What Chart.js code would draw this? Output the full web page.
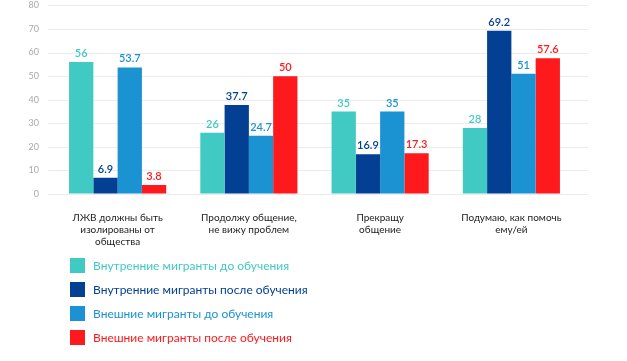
<!DOCTYPE html>
<html>
<head>
  <meta charset="utf-8">
  <title>Отношение к ЛЖВ</title>
  <script src="https://cdn.jsdelivr.net/npm/chart.js"></script>
  <style>
    html, body { margin: 0; padding: 0; background: #fff; }
    #wrap { width: 627px; height: 361px; position: relative; }
  </style>
</head>
<body>
  <div id="wrap"><canvas id="chart"></canvas></div>
  <script>
    const categories = [
      ['ЛЖВ должны быть', 'изолированы от', 'общества'],
      ['Продолжу общение,', 'не вижу проблем'],
      ['Прекращу', 'общение'],
      ['Подумаю, как помочь', 'ему/ей']
    ];
    const seriesNames = [
      'Внутренние мигранты до обучения',
      'Внутренние мигранты после обучения',
      'Внешние мигранты до обучения',
      'Внешние мигранты после обучения'
    ];
    const internalBefore = [56, 26, 35, 28];
    const internalAfter = [6.9, 37.7, 16.9, 69.2];
    const externalBefore = [53.7, 24.7, 35, 51];
    const externalAfter = [3.8, 50, 17.3, 57.6];
    const colors = ['#41c9c3', '#033f93', '#1b92d1', '#fe1a1c'];

    const fontFamily = 'Lato, "Noto Sans", sans-serif';

    // value labels above each bar, in the bar colour
    const valueLabels = {
      id: 'valueLabels',
      afterDatasetsDraw(chart) {
        const ctx = chart.ctx;
        ctx.save();
        ctx.font = '600 11px ' + fontFamily;
        ctx.textAlign = 'center';
        ctx.textBaseline = 'bottom';
        chart.data.datasets.forEach((ds, i) => {
          ctx.fillStyle = ds.backgroundColor;
          chart.getDatasetMeta(i).data.forEach((bar, j) => {
            ctx.fillText(String(ds.data[j]), bar.x, bar.y - 3);
          });
        });
        ctx.restore();
      }
    };

    // horizontal grid a bit wider than the category area
    const wideGrid = {
      id: 'wideGrid',
      beforeDatasetsDraw(chart) {
        const ctx = chart.ctx;
        const y = chart.scales.y;
        ctx.save();
        ctx.strokeStyle = '#ececec';
        ctx.lineWidth = 1;
        y.ticks.forEach(t => {
          const py = Math.round(y.getPixelForValue(t.value)) + 0.5;
          ctx.beginPath();
          ctx.moveTo(48, py);
          ctx.lineTo(588, py);
          ctx.stroke();
        });
        ctx.restore();
      }
    };

    // vertical legend under the axis labels
    const listLegend = {
      id: 'listLegend',
      afterDraw(chart) {
        const ctx = chart.ctx;
        ctx.save();
        ctx.font = '12px ' + fontFamily;
        ctx.textBaseline = 'middle';
        chart.data.datasets.forEach((ds, i) => {
          const top = 258 + i * 24;
          ctx.fillStyle = ds.backgroundColor;
          ctx.fillRect(70, top, 15, 15);
          ctx.fillText(ds.label, 93, top + 8);
        });
        ctx.restore();
      }
    };

    const series = [internalBefore, internalAfter, externalBefore, externalAfter];

    new Chart(document.getElementById('chart'), {
      type: 'bar',
      data: {
        labels: categories,
        datasets: series.map((vals, i) => ({
          label: seriesNames[i],
          data: vals,
          backgroundColor: colors[i],
          borderWidth: 0,
          categoryPercentage: 0.74,
          barPercentage: 1
        }))
      },
      options: {
        responsive: true,
        maintainAspectRatio: false,
        animation: false,
        layout: { padding: { top: 0, right: 50, left: 0, bottom: 0 } },
        plugins: {
          legend: { display: false },
          tooltip: { enabled: false }
        },
        scales: {
          x: {
            grid: { display: false, drawTicks: false },
            border: { display: false },
            ticks: {
              color: '#222',
              font: { family: fontFamily, size: 10 },
              padding: 18,
              maxRotation: 0,
              autoSkip: false
            },
            afterFit(scale) { scale.height = 167; }
          },
          y: {
            min: 0,
            max: 80,
            // invisible grid; tick length only spaces the labels
            grid: { color: 'rgba(0,0,0,0)', drawTicks: true, tickLength: 13 },
            border: { display: false },
            ticks: {
              stepSize: 10,
              color: '#aaa',
              font: { family: fontFamily, size: 9 },
              padding: 0
            },
            afterFit(scale) { scale.width = 52; }
          }
        }
      },
      plugins: [wideGrid, valueLabels, listLegend]
    });
  </script>
</body>
</html>
